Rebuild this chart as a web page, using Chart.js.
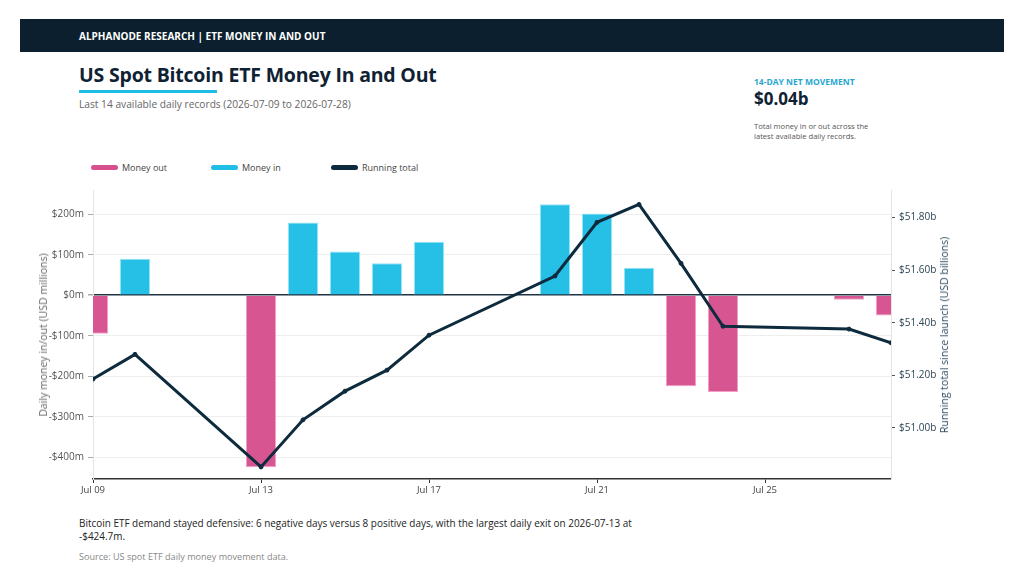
<!DOCTYPE html>
<html>
<head>
<meta charset="utf-8">
<script src="https://cdn.jsdelivr.net/npm/chart.js@4.4.1/dist/chart.umd.min.js"></script>
<style>
  html, body { margin:0; padding:0; background:#fff; }
  body { width:1024px; height:582px; position:relative; overflow:hidden; font-family:"Open Sans", "Noto Sans", sans-serif; }
  .hdr { position:absolute; left:20px; top:19px; width:984px; height:33px; background:#0c1f2f; }
  .hdr span { position:absolute; left:59px; top:10px; color:#fff; font-weight:700; font-size:10px; }
  .title { position:absolute; left:79px; top:61px; font-size:19.5px; font-weight:700; color:#0f2233; white-space:nowrap; letter-spacing:-0.2px; }
  .uline { position:absolute; left:79px; top:90px; width:138px; height:3px; background:#1fbde6; }
  .sub { position:absolute; left:79px; top:97px; font-size:10.2px; color:#666; white-space:nowrap; }
  .kpil { position:absolute; left:754px; top:76px; font-size:8.5px; font-weight:700; color:#2aa7d0; white-space:nowrap; }
  .kpiv { position:absolute; left:754px; top:87px; font-size:17px; font-weight:700; color:#0f2233; white-space:nowrap; }
  .kpid { position:absolute; left:754px; top:122px; font-size:7.6px; line-height:9.5px; color:#555; white-space:nowrap; }
  .leg { position:absolute; top:161px; font-size:9px; color:#444; white-space:nowrap; }
  .leg i { display:inline-block; width:27px; height:5px; border-radius:3px; vertical-align:middle; margin-right:4px; position:relative; top:-1px; }
  .foot { position:absolute; left:79px; top:517px; font-size:9.95px; line-height:13px; color:#222; white-space:nowrap; }
  .src { position:absolute; left:79px; top:550px; font-size:9.1px; color:#888; white-space:nowrap; }
  .ytitle { position:absolute; font-size:10.5px; white-space:nowrap; transform:translate(-50%,-50%) rotate(-90deg); }
  #wrap { position:absolute; left:20px; top:180px; width:960px; height:320px; }
</style>
</head>
<body>
<div class="hdr"><span>ALPHANODE RESEARCH | ETF MONEY IN AND OUT</span></div>
<div class="title">US Spot Bitcoin ETF Money In and Out</div>
<div class="uline"></div>
<div class="sub">Last 14 available daily records (2026-07-09 to 2026-07-28)</div>
<div class="kpil">14-DAY NET MOVEMENT</div>
<div class="kpiv">$0.04b</div>
<div class="kpid">Total money in or out across the<br>latest available daily records.</div>
<div class="leg" style="left:91px"><i style="background:#d6508d"></i>Money out</div>
<div class="leg" style="left:211px"><i style="background:#1fbee6"></i>Money in</div>
<div class="leg" style="left:331px"><i style="background:#0e2b3e"></i>Running total</div>
<div id="wrap"><canvas id="c"></canvas></div>
<div class="ytitle" style="left:43px; top:335px; color:#666;">Daily money in/out (USD millions)</div>
<div class="ytitle" style="left:944px; top:335px; color:#2c4a5e;">Running total since launch (USD billions)</div>
<div class="foot">Bitcoin ETF demand stayed defensive: 6 negative days versus 8 positive days, with the largest daily exit on 2026-07-13 at<br>-$424.7m.</div>
<div class="src">Source: US spot ETF daily money movement data.</div>
<script>
const dates = ["2026-07-09","2026-07-10","2026-07-13","2026-07-14","2026-07-15","2026-07-16","2026-07-17","2026-07-20","2026-07-21","2026-07-22","2026-07-23","2026-07-24","2026-07-27","2026-07-28"];
const dailyFlow = [-95, 90, -424.7, 180, 108, 79, 132, 225, 202, 68, -225, -239, -11, -50];
const runningTotal = [51.186, 51.280, 50.852, 51.031, 51.140, 51.220, 51.353, 51.578, 51.782, 51.850, 51.626, 51.387, 51.376, 51.324];
const xTickDates = ["2026-07-09","2026-07-13","2026-07-17","2026-07-21","2026-07-25"];
const xTickLabels = ["Jul 09","Jul 13","Jul 17","Jul 21","Jul 25"];
const startDate = "2026-07-09";
const endDate = "2026-07-28";

const dayNum = s => { const [y,m,d] = s.split("-").map(Number); return Date.UTC(y, m-1, d) / 86400000; };
const x0 = dayNum(startDate);
const xs = dates.map(d => dayNum(d) - x0);
const tickXs = xTickDates.map(d => dayNum(d) - x0);

const NAVY = "#0e2b3e";
const font = { family: "'Open Sans', 'Noto Sans', sans-serif", size: 9.5 };

new Chart(document.getElementById("c"), {
  data: {
    datasets: [
      {
        type: "line", label: "Running total", yAxisID: "y1", order: 0,
        data: xs.map((x, i) => ({ x, y: runningTotal[i] })),
        borderColor: NAVY, backgroundColor: NAVY, borderWidth: 3,
        pointRadius: 2, pointBorderWidth: 1, pointHoverRadius: 2, tension: 0
      },
      {
        type: "bar", label: "Daily flow", yAxisID: "y", order: 1,
        data: xs.map((x, i) => ({ x, y: dailyFlow[i] })),
        backgroundColor: ctx => (ctx.raw && ctx.raw.y < 0) ? "rgba(214,80,141,0.97)" : "rgba(31,190,230,0.97)",
        borderColor: ctx => (ctx.raw && ctx.raw.y < 0) ? "rgba(240,150,190,0.9)" : "rgba(140,225,245,0.9)",
        borderWidth: 1, borderSkipped: "start",
        categoryPercentage: 0.8, barPercentage: 0.9
      }
    ]
  },
  options: {
    responsive: true, maintainAspectRatio: false, animation: false,
    layout: { padding: { top: 0, left: 0, right: 0, bottom: 0 } },
    plugins: { legend: { display: false }, tooltip: { enabled: false } },
    scales: {
      x: {
        type: "linear", min: 0, max: dayNum(endDate) - x0, offset: false,
        afterBuildTicks: s => { s.ticks = tickXs.map(v => ({ value: v })); },
        afterFit: s => { s.height = 21; },
        ticks: {
          callback: v => { const i = tickXs.indexOf(v); return i >= 0 ? xTickLabels[i] : ""; },
          color: "#444", font, padding: 2, maxRotation: 0, autoSkip: false
        },
        grid: { offset: false, drawOnChartArea: false, drawTicks: true, tickLength: 4, color: "#333" },
        border: { color: "#333", width: 1.5 }
      },
      y: {
        position: "left", min: -454, max: 260,
        afterFit: s => { s.width = 73; },
        ticks: { stepSize: 100, includeBounds: false, color: "#555", font: { ...font, size: 10 }, padding: 4,
          callback: v => (v < 0 ? "-$" : "$") + Math.abs(v) + "m" },
        grid: {
          color: c => (c.tick && c.tick.value === 0) ? "#1e3444" : "#eeeeee",
          lineWidth: c => (c.tick && c.tick.value === 0) ? 1.5 : 1,
          tickLength: 5, tickColor: "#aaa"
        },
        border: { color: "#e4e4e4" }
      },
      y1: {
        position: "right", min: 50.806, max: 51.905,
        afterFit: s => { s.width = 89; },
        ticks: { stepSize: 0.2, includeBounds: false, color: "#2d4555", font: { ...font, size: 10 }, padding: 4,
          callback: v => "$" + v.toFixed(2) + "b" },
        grid: { drawOnChartArea: false, tickLength: 4, tickColor: "#555" },
        border: { color: "#e4e4e4" }
      }
    }
  }
});
</script>
</body>
</html>
